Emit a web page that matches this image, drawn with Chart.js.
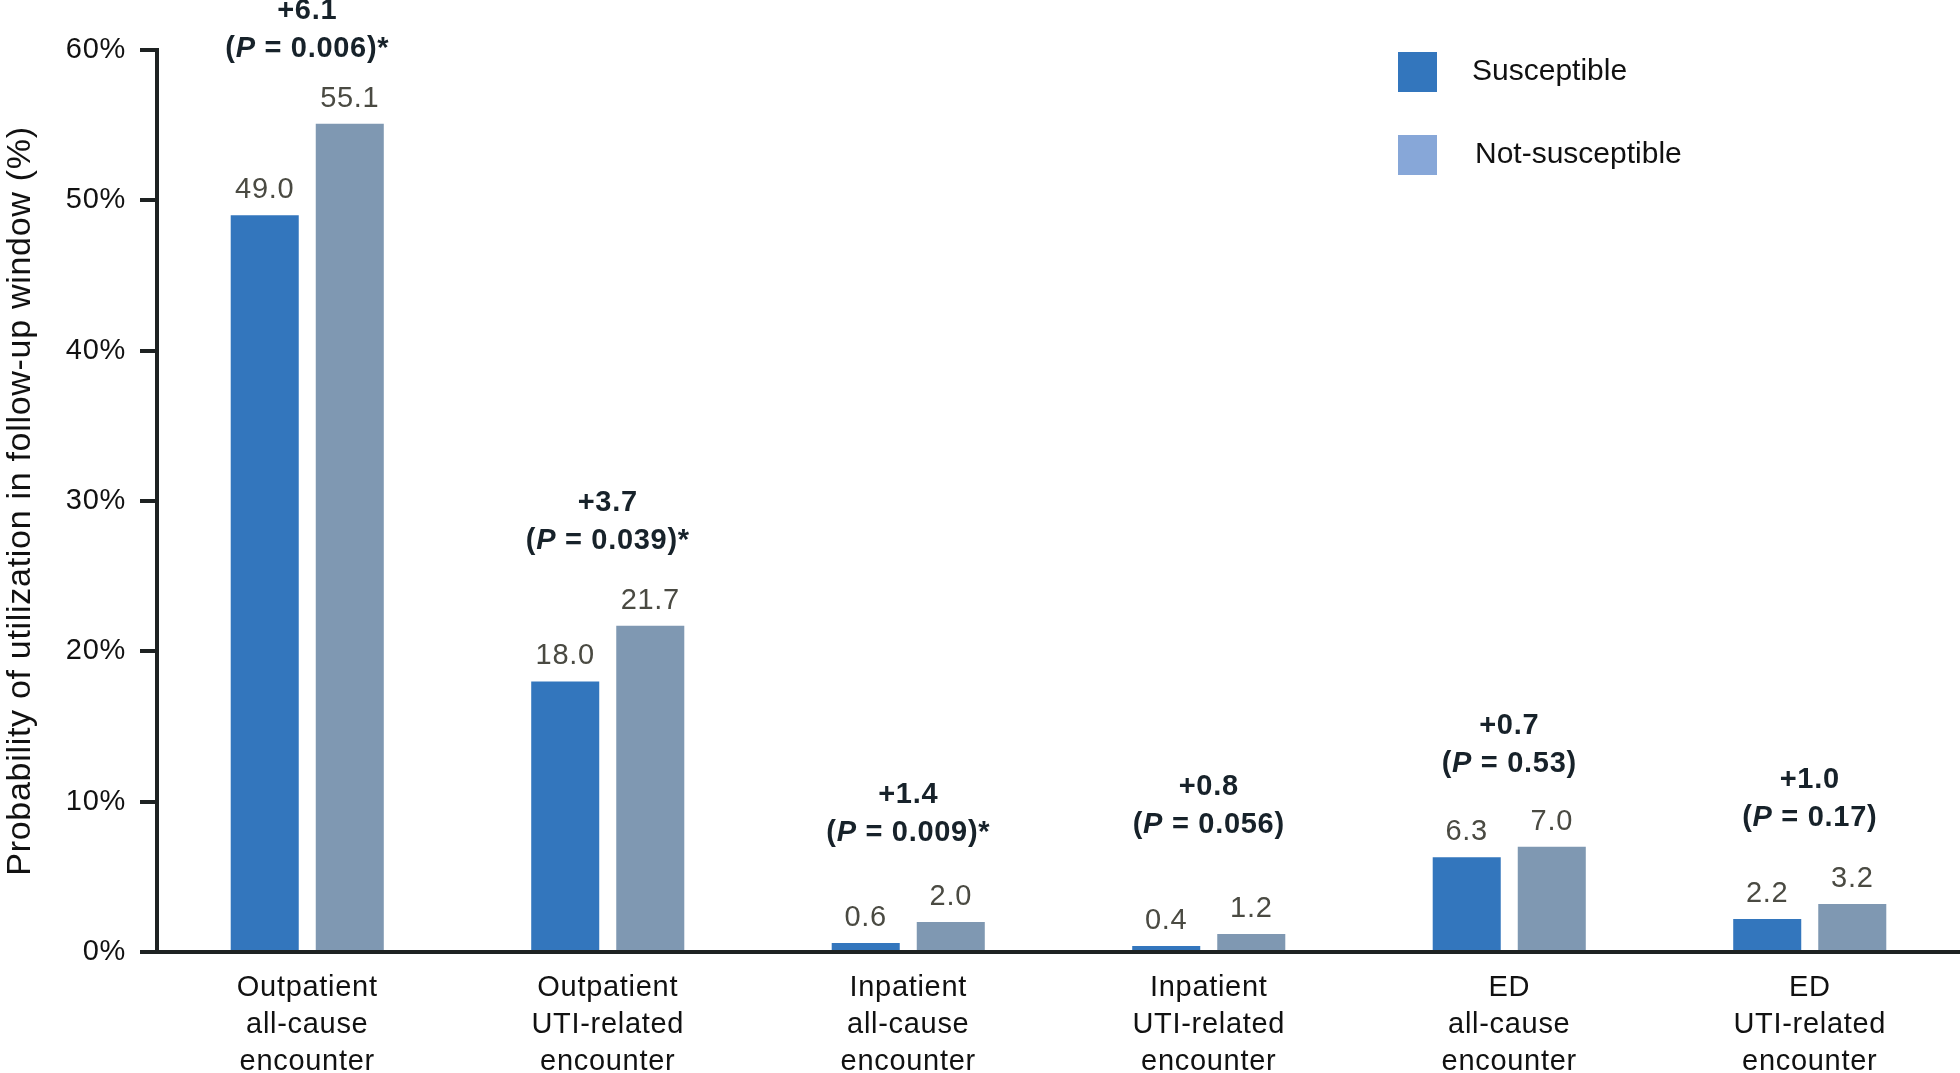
<!DOCTYPE html>
<html><head><meta charset="utf-8">
<script src="https://cdn.jsdelivr.net/npm/chart.js@4/dist/chart.umd.min.js"></script>
<style>html,body{margin:0;padding:0;background:#fff;overflow:hidden}#wrap{width:1960px;height:1073px;position:relative}</style>
</head><body><div id="wrap"><canvas id="c" width="1960" height="1073"></canvas></div>
<script>
const categories = [["Outpatient","all-cause","encounter"],["Outpatient","UTI-related","encounter"],["Inpatient","all-cause","encounter"],["Inpatient","UTI-related","encounter"],["ED","all-cause","encounter"],["ED","UTI-related","encounter"]];
const susceptible = [49.0, 18.0, 0.6, 0.4, 6.3, 2.2];
const notSusceptible = [55.1, 21.7, 2.0, 1.2, 7.0, 3.2];
const differences = ["+6.1","+3.7","+1.4","+0.8","+0.7","+1.0"];
const pValues = ["0.006","0.039","0.009","0.056","0.53","0.17"];
const significant = [true, true, true, false, false, false];
const seriesNames = ["Susceptible","Not-susceptible"];
const yAxisTitle = "Probability of utilization in follow-up window (%)";

const FONT = '"Liberation Sans", Arial, sans-serif';
const LS = '0.7px';
const AXIS = '#1e2222';
const barColors = ['#3376BD', '#7F98B2'];
const legendColors = ['#3376BD', '#87A7D8'];

const spacingPlugin = {
  id: 'spacing',
  beforeLayout(chart){ chart.ctx.letterSpacing = LS; },
  beforeDraw(chart){ chart.ctx.letterSpacing = LS; }
};

const labelPlugin = {
  id: 'labels',
  afterDraw(chart, args, opts) {
    const ctx = chart.ctx;
    const metas = [chart.getDatasetMeta(0), chart.getDatasetMeta(1)];
    ctx.save();
    ctx.letterSpacing = LS;
    ctx.textAlign = 'center';
    ctx.textBaseline = 'middle';
    // value labels
    ctx.font = '29px ' + FONT;
    ctx.fillStyle = '#4a4a42';
    metas.forEach((m, di) => {
      m.data.forEach((bar, i) => {
        const v = chart.data.datasets[di].data[i];
        ctx.fillText(v.toFixed(1), bar.x, bar.y - opts.valueOffset);
      });
    });
    // annotations
    const xs = chart.scales.x;
    const bold = 'bold 29px ' + FONT;
    for (let i = 0; i < differences.length; i++) {
      const cx = xs.getPixelForValue(i);
      const top = Math.min(metas[0].data[i].y, metas[1].data[i].y);
      const py = top - opts.valueOffset - opts.gaps[i];
      const dy = py - opts.lineGap;
      ctx.fillStyle = '#17222a';
      ctx.textAlign = 'center';
      ctx.font = bold;
      ctx.fillText(differences[i], cx, dy);
      const segs = [
        ['(', bold],
        ['P', 'italic ' + bold],
        [' = ' + pValues[i] + ')' + (significant[i] ? '*' : ''), bold]
      ];
      let total = 0;
      segs.forEach(s => { ctx.font = s[1]; s.push(ctx.measureText(s[0]).width); total += s[2]; });
      let x = cx - total / 2;
      ctx.textAlign = 'left';
      segs.forEach(s => { ctx.font = s[1]; ctx.fillText(s[0], x, py); x += s[2]; });
    }
    // legend
    ctx.letterSpacing = '0px';
    ctx.textAlign = 'left';
    ctx.font = '30px ' + FONT;
    const L = opts.legend;
    seriesNames.forEach((name, k) => {
      ctx.fillStyle = legendColors[k];
      ctx.fillRect(L.x, L.ys[k], L.w, L.h);
      ctx.fillStyle = '#111';
      ctx.fillText(name, L.tx[k], L.ys[k] + L.h / 2);
    });
    ctx.restore();
  }
};

new Chart(document.getElementById('c'), {
  type: 'bar',
  data: {
    labels: categories,
    datasets: [
      { label: seriesNames[0], data: susceptible, backgroundColor: barColors[0], borderWidth: 0 },
      { label: seriesNames[1], data: notSusceptible, backgroundColor: barColors[1], borderWidth: 0 }
    ]
  },
  options: {
    responsive: false,
    animation: false,
    devicePixelRatio: 1,
    categoryPercentage: 0.566,
    barPercentage: 0.8,
    layout: { padding: { top: 50, left: 0, right: 0, bottom: 0 } },
    plugins: {
      legend: { display: false },
      tooltip: { enabled: false },
      labels: {
        valueOffset: 25,
        gaps: [50, 60, 64, 84, 58, 61],
        lineGap: 38,
        legend: { x: 1398, ys: [52, 135], w: 39, h: 40, tx: [1472, 1475] }
      }
    },
    scales: {
      x: {
        grid: { display: false, drawTicks: false },
        border: { display: true, color: AXIS, width: 4 },
        ticks: { font: { family: FONT, size: 29, lineHeight: 1.28 }, color: '#111', padding: 17, maxRotation: 0, autoSkip: false },
        afterFit: s => { s.height = 121; }
      },
      y: {
        min: 0, max: 60,
        grid: { display: true, drawOnChartArea: false, drawTicks: true, tickLength: 17, color: AXIS, lineWidth: 4 },
        border: { display: true, color: AXIS, width: 4 },
        ticks: { stepSize: 10, callback: v => v + '%', font: { family: FONT, size: 29 }, color: '#111', padding: 14 },
        title: { display: true, text: yAxisTitle, font: { family: FONT, size: 34 }, color: '#111', padding: 0 },
        afterFit: s => { s.width = 157; }
      }
    }
  },
  plugins: [spacingPlugin, labelPlugin]
});
</script></body></html>
